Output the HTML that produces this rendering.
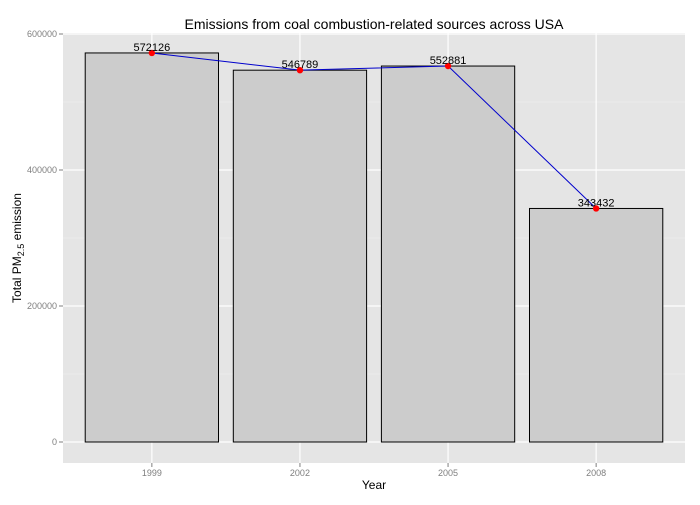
<!DOCTYPE html>
<html><head><meta charset="utf-8"><style>
body{margin:0;background:#fff;font-family:"Liberation Sans",sans-serif}
</style></head><body>
<svg id="chart" width="700" height="500" xmlns="http://www.w3.org/2000/svg">
<rect width="700" height="500" fill="#fff"/>
<g id="panel"></g>
<text x="374" y="29" text-anchor="middle" font-size="14">Emissions from coal combustion-related sources across USA</text>
<text x="374" y="489" text-anchor="middle" font-size="12">Year</text>
<text transform="translate(21,248) rotate(-90)" text-anchor="middle" font-size="12">Total PM<tspan font-size="9" dy="3">2.5</tspan><tspan dy="-3"> emission</tspan></text>
</svg>
<script>
const categories=["1999","2002","2005","2008"];
const values=[572126,546789,552881,343432];
const yTicks=[0,200000,400000,600000];
const NS="http://www.w3.org/2000/svg";
const L=63,R=685,T=33,B=463;
const step=(R-L)/(categories.length+0.2);
const xc=i=>L+step*(0.6+i);
const y=v=>442-v*(408/600000);
const g=document.getElementById('panel');
function mk(t,a,p){const e=document.createElementNS(NS,t);for(const k in a)e.setAttribute(k,a[k]);(p||g).appendChild(e);return e;}
const bg=mk('rect',{x:L,y:T,width:R-L,height:B-T,fill:'#e5e5e5'});


for(let i=0;i<yTicks.length-1;i++){const m=(yTicks[i]+yTicks[i+1])/2;mk('line',{x1:L,x2:R,y1:y(m),y2:y(m),stroke:'#f2f2f2','stroke-width':0.6});}
yTicks.forEach(t=>{
 const ln=mk('line',{x1:L,x2:R,y1:y(t),y2:y(t),stroke:'#fff','stroke-width':1.2});
 
 
 mk('line',{x1:L-4,x2:L,y1:y(t),y2:y(t),stroke:'#7f7f7f'});
 const tx=mk('text',{x:L-6,y:y(t)+3,'text-anchor':'end','font-size':9,fill:'#7f7f7f'});tx.textContent=t;
 
 
});
categories.forEach((c,i)=>{
 const ln=mk('line',{x1:xc(i),x2:xc(i),y1:T,y2:B,stroke:'#fff','stroke-width':1.2});
 
 
});
categories.forEach((c,i)=>{
 const w=step*0.9;
 const b=mk('rect',{x:xc(i)-w/2,y:y(values[i]),width:w,height:y(0)-y(values[i]),fill:'#cccccc',stroke:'#000','stroke-width':1});
 
 
 mk('line',{x1:xc(i),x2:xc(i),y1:B,y2:B+4,stroke:'#7f7f7f'});
 const tx=mk('text',{x:xc(i),y:B+13,'text-anchor':'middle','font-size':9,fill:'#7f7f7f'});tx.textContent=c;
 
 
});
const pl=mk('polyline',{points:values.map((v,i)=>xc(i)+','+y(v)).join(' '),fill:'none',stroke:'#0000cc','stroke-width':1});


values.forEach((v,i)=>{
 const p=mk('circle',{cx:xc(i),cy:y(v),r:3.2,fill:'#ff0000'});
 
 
 const tx=mk('text',{x:xc(i),y:y(v)-2,'text-anchor':'middle','font-size':11,fill:'#000'});tx.textContent=v;
 
 
});
</script>
</body></html>
